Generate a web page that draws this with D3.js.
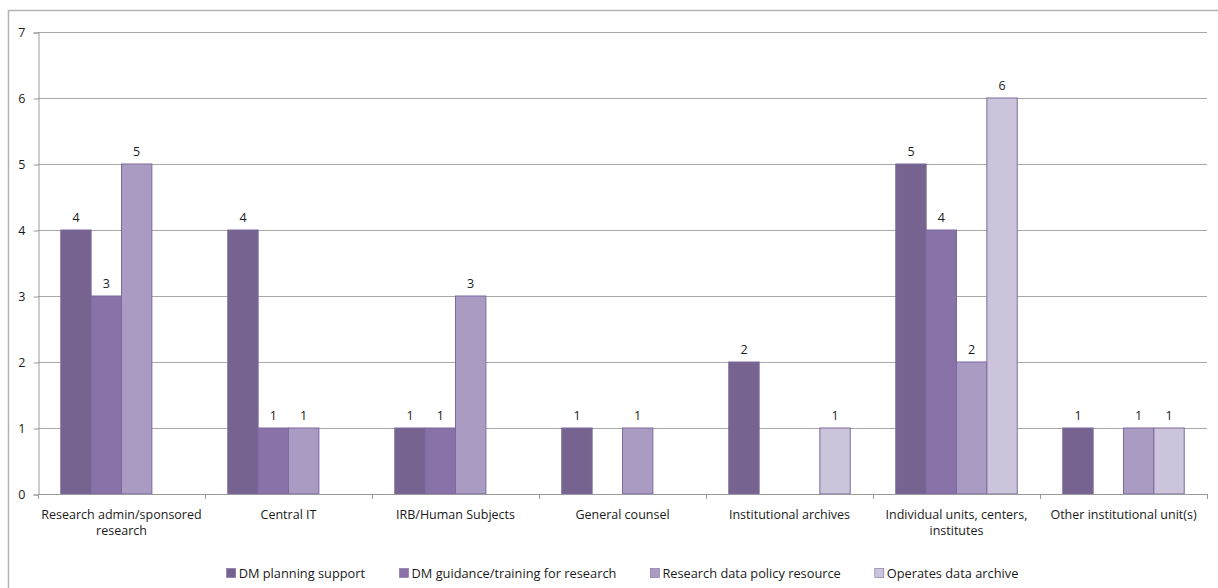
<!DOCTYPE html>
<html>
<head>
<meta charset="utf-8">
<script src="https://cdn.jsdelivr.net/npm/d3@7"></script>
<style>
  html, body { margin: 0; padding: 0; background: #fff; }
  svg { display: block; }
  text { font-family: "Open Sans", "Lato", sans-serif; fill: #1a1a1a; }
</style>
</head>
<body>
<svg id="chart" width="1218" height="588"></svg>
<script>
// Categories (institutional units) and the four service series
const categories = [
  "Research admin/sponsored research",
  "Central IT",
  "IRB/Human Subjects",
  "General counsel",
  "Institutional archives",
  "Individual units, centers, institutes",
  "Other institutional unit(s)"
];
const seriesNames = [
  "DM planning support",
  "DM guidance/training for research",
  "Research data policy resource",
  "Operates data archive"
];
const planningSupport  = [4, 4, 1, 1, 2, 5, 1];
const guidanceTraining = [3, 1, 1, 0, 0, 4, 0];
const policyResource   = [5, 1, 3, 1, 0, 2, 1];
const dataArchive      = [0, 0, 0, 0, 1, 6, 1];
const yTicks = [0, 1, 2, 3, 4, 5, 6, 7];

const seriesValues = [planningSupport, guidanceTraining, policyResource, dataArchive];
const colors = ["#76638f", "#8972a8", "#aa9bc2", "#ccc4da"];

const svg = d3.select("#chart");
const W = 1218, H = 588;
const plot = { left: 38, right: 1207, top: 32, bottom: 494 };

// Chart area frame
svg.append("rect")
  .attr("x", 8.5).attr("y", 10.5)
  .attr("width", W).attr("height", H)
  .attr("fill", "none").attr("stroke", "#b3b3b3").attr("stroke-width", 1.5);

// Category bands; within each, 4 bars with a 150% gap split either side
const x0 = d3.scaleBand().domain(categories)
  .range([plot.left, plot.right]).paddingInner(0).paddingOuter(0);
const x1 = d3.scaleBand().domain(d3.range(seriesNames.length))
  .range([0, x0.bandwidth()]).paddingInner(0).paddingOuter(0.75);

const y = d3.scaleLinear().domain([0, 7]).range([plot.bottom, plot.top]);

// Gridlines
svg.append("g").selectAll("line").data(yTicks.filter(d => d > 0)).join("line")
  .attr("x1", plot.left).attr("x2", plot.right)
  .attr("y1", d => Math.round(y(d)) + 0.5).attr("y2", d => Math.round(y(d)) + 0.5)
  .attr("stroke", "#a8a8a8").attr("stroke-width", 1);

// Y axis
const yAxis = svg.append("g")
  .attr("transform", `translate(${plot.left + 0.5},0.5)`)
  .call(d3.axisLeft(y).tickValues(yTicks).tickSize(5).tickPadding(8).tickFormat(d3.format("d")));
yAxis.select(".domain").attr("stroke", "#9a9a9a");
yAxis.selectAll(".tick line").attr("stroke", "#9a9a9a");
yAxis.selectAll(".tick text").attr("font-size", 12.5).attr("fill", "#1a1a1a")
  .style("font-family", "'Open Sans', sans-serif");

// Bars
const groups = svg.append("g").selectAll("g").data(categories).join("g")
  .attr("transform", c => `translate(${x0(c)},0)`);

groups.each(function(c, ci) {
  const g = d3.select(this);
  const bars = seriesValues.map((vals, si) => ({ si, v: vals[ci] })).filter(d => d.v > 0);
  g.selectAll("rect").data(bars).join("rect")
    .attr("x", d => x1(d.si))
    .attr("y", d => y(d.v))
    .attr("width", x1.bandwidth())
    .attr("height", d => y(0) - y(d.v))
    .attr("fill", d => colors[d.si])
    .attr("stroke", "#7d69a0").attr("stroke-width", 1);
  g.selectAll("text.val").data(bars).join("text")
    .attr("class", "val")
    .attr("x", d => x1(d.si) + x1.bandwidth() / 2)
    .attr("y", d => y(d.v) - 8)
    .attr("text-anchor", "middle")
    .attr("font-size", 12.5)
    .text(d => d.v);
});

// X axis line and category ticks
svg.append("line")
  .attr("x1", plot.left).attr("x2", plot.right)
  .attr("y1", plot.bottom + 0.5).attr("y2", plot.bottom + 0.5)
  .attr("stroke", "#9a9a9a");
const boundaries = categories.map(c => x0(c)).concat([plot.right]);
svg.append("g").selectAll("line").data(boundaries).join("line")
  .attr("x1", d => Math.round(d) + 0.5).attr("x2", d => Math.round(d) + 0.5)
  .attr("y1", plot.bottom).attr("y2", plot.bottom + 5)
  .attr("stroke", "#9a9a9a");

// Category labels, wrapped to the band width
const labelWrap = {
  "Research admin/sponsored research": ["Research admin/sponsored", "research"],
  "Individual units, centers, institutes": ["Individual units, centers,", "institutes"]
};
svg.append("g").selectAll("text").data(categories).join("text")
  .attr("x", c => x0(c) + x0.bandwidth() / 2)
  .attr("y", 519)
  .attr("text-anchor", "middle")
  .attr("font-size", 12.5)
  .each(function(c) {
    const lines = labelWrap[c] || [c];
    d3.select(this).selectAll("tspan").data(lines).join("tspan")
      .attr("x", x0(c) + x0.bandwidth() / 2)
      .attr("dy", (d, i) => i === 0 ? 0 : 16)
      .text(d => d);
  });

// Legend
const legend = svg.append("g").attr("transform", "translate(0,578)");
const items = legend.selectAll("g").data(seriesNames).join("g");
items.append("rect")
  .attr("y", -9.5).attr("width", 9).attr("height", 9)
  .attr("fill", (d, i) => colors[i]).attr("stroke", "#7d69a0").attr("stroke-width", 0.6);
items.append("text")
  .attr("x", 12).attr("y", 0)
  .attr("font-size", 12.8)
  .text(d => d);
const gap = 34;
let widths = [];
items.each(function() { widths.push(this.getBBox().width); });
const total = d3.sum(widths) + gap * (widths.length - 1);
let cx = (plot.left + plot.right) / 2 - total / 2;
items.attr("transform", (d, i) => {
  const t = `translate(${cx},0)`;
  cx += widths[i] + gap;
  return t;
});
</script>
</body>
</html>
